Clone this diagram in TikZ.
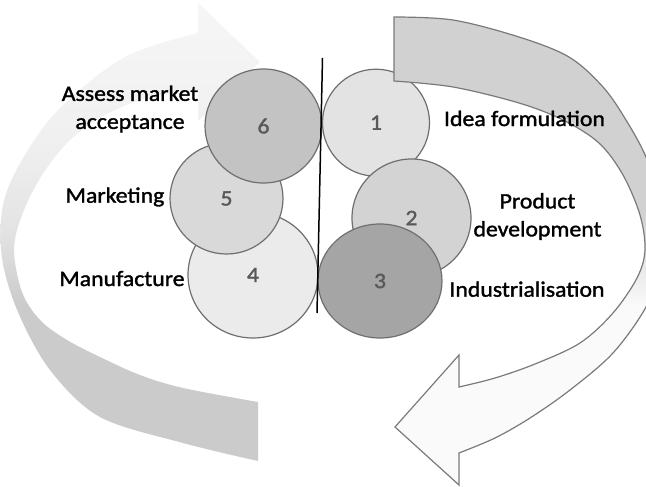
\documentclass[tikz,border=0pt]{standalone}
\usepackage{fontspec}
\setmainfont{Carlito}[FakeStretch=1.08, FakeBold=1.5]
\usetikzlibrary{shapes.geometric}
\definecolor{la0}{HTML}{F6F6F6}
\definecolor{la1}{HTML}{F0F0F0}
\definecolor{la2}{HTML}{E3E3E3}
\definecolor{la3}{HTML}{CBCBCB}
\definecolor{ra1}{HTML}{D1D1D1}
\definecolor{ra2}{HTML}{E2E2E2}
\definecolor{ra3}{HTML}{FAFAFA}
\definecolor{raedge}{HTML}{7A7A7A}
\definecolor{cedge}{HTML}{6F6F6F}
\definecolor{numgray}{HTML}{595959}
\definecolor{c1}{HTML}{E3E3E3}
\definecolor{c2}{HTML}{D3D3D3}
\definecolor{c3}{HTML}{A5A5A5}
\definecolor{c4}{HTML}{EBEBEB}
\definecolor{c5}{HTML}{D9D9D9}
\definecolor{c6}{HTML}{C3C3C3}
\pgfdeclareverticalshading{leftarrowshade}{100bp}{color(0bp)=(la3); color(42bp)=(la3); color(50bp)=(la2); color(60bp)=(la1); color(75bp)=(la0); color(100bp)=(la0)}
\pgfdeclareverticalshading{rightarrowshade}{100bp}{color(0bp)=(ra3); color(44bp)=(ra3); color(50bp)=(ra2); color(54bp)=(ra1); color(100bp)=(ra1)}
\tikzset{
  circ/.style={ellipse, draw=cedge, line width=1.2pt, inner sep=0pt, text=numgray, font=\fontsize{22}{22}\selectfont},
  lbl/.style={font=\fontsize{22}{28}\selectfont, text=black, inner sep=0pt},
  divider/.style={line width=1.5pt, draw=black}
}
\begin{document}
\begin{tikzpicture}[x=1pt,y=-1pt]
\useasboundingbox (0,0) rectangle (646,487);
\fill[white] (0,0) rectangle (646,487);
\begin{scope}
\clip (0,0) rectangle (646,487);
% left curved arrow (no outline, gradient)
\path[shading=leftarrowshade]
  plot[smooth,tension=0.55] coordinates {(258,461) (183,443) (100,417) (50,370) (18,312) (2,258) (3,205) (22,160) (60,108) (125,57) (198,33)}
  -- (198,3) -- (260,62) -- (198,121) -- (198,91)
  -- plot[smooth,tension=0.55] coordinates {(198,91) (150,97) (105,115) (70,140) (42,175) (22,215) (14,250) (22,292) (40,320) (67,340) (100,357) (140,375) (183,388) (258,402)}
  -- cycle;
\end{scope}
% circles, left column
\node[circ, fill=c4, minimum width=130pt, minimum height=126pt] (n4) at (253,275) {4};
\node[circ, fill=c5, minimum width=113pt, minimum height=111pt] (n5) at (226.5,198.5) {5};
\node[circ, fill=c6, minimum width=117pt, minimum height=114pt] (n6) at (263.5,126) {6};
% circles, right column
\node[circ, fill=c1, minimum width=107pt, minimum height=107pt] (n1) at (376,122.7) {1};
\node[circ, fill=c2, minimum width=119pt, minimum height=118pt] (n2) at (411.5,218) {2};
\node[circ, fill=c3, minimum width=124pt, minimum height=114pt] (n3) at (380,281) {3};
\begin{scope}
\clip (0,0) rectangle (646,487);
% right curved arrow (outlined, gradient)
\path[shading=rightarrowshade, draw=raedge, line width=1.2pt, line join=miter]
  plot[smooth,tension=0.55] coordinates {(394,17) (453,20) (519,37) (569,57) (603,87) (626,120) (646,157) (660,200) (664,235) (658,270) (646,307) (613,353) (570,390) (530,418) (495,438) (459,453)}
  -- (459,485) -- (395,427) -- (459,355) -- (459,387)
  -- plot[smooth,tension=0.55] coordinates {(459,387) (495,378) (535,364) (580,343) (613,313) (637,278) (645,250) (640,215) (623,175) (599,143) (563,120) (519,103) (453,87) (394,81)}
  -- cycle;
\end{scope}
% divider
\coordinate (vtop) at (322.5,58);
\coordinate (vbot) at (317,313);
\draw[divider] (vtop) -- (vbot);
% labels
\node[lbl, align=center] (lassess) at (130,109) {Assess market\\acceptance};
\node[lbl, anchor=base] (lmarket) at (115,202.7) {Marketing};
\node[lbl, anchor=base] (lmanu) at (122,286) {Manufacture};
\node[lbl, anchor=base] (lidea) at (524.5,126) {Idea formulation};
\node[lbl, align=center] (lprod) at (537.5,216.5) {Product\\development};
\node[lbl, anchor=base] (lind) at (527,296.7) {Industrialisation};
\end{tikzpicture}
\end{document}
